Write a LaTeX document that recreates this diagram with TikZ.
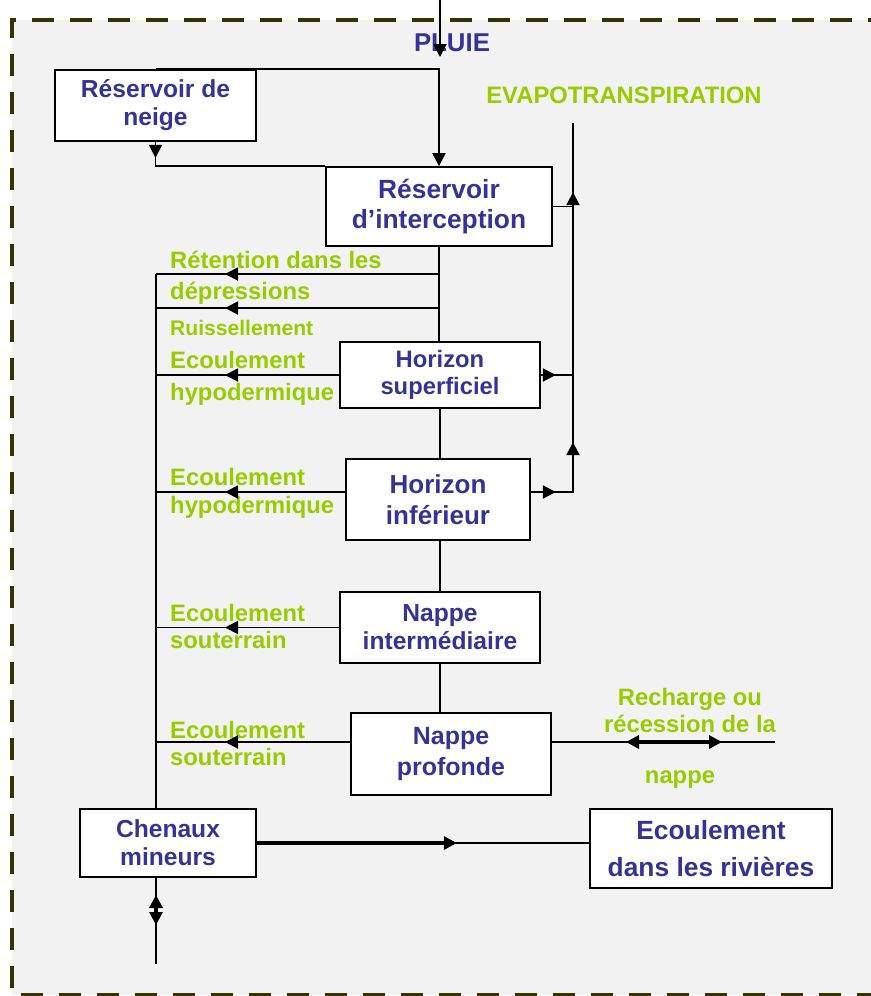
\documentclass[tikz,border=0pt]{standalone}
\usepackage{fontspec}
\setmainfont{Liberation Sans}
\usetikzlibrary{arrows.meta,positioning,calc,decorations.markings}
\definecolor{boxblue}{RGB}{51,51,153}
\definecolor{leafgreen}{RGB}{153,204,0}
\definecolor{framebrown}{RGB}{51,51,0}
\definecolor{paper}{RGB}{242,242,242}
\tikzset{
  box/.style={draw=black, fill=white, line width=1.4pt, align=center, inner sep=0pt, text=boxblue, font=\bfseries\fontsize{21}{24}\selectfont},
  flowlabel/.style={anchor=west, align=left, inner sep=0pt, text=leafgreen, font=\bfseries\fontsize{20.3}{23}\selectfont},
  titlelabel/.style={inner sep=0pt, text=boxblue, font=\bfseries\fontsize{22}{24}\selectfont},
  flowline/.style={line width=1.6pt},
  arrow/.style={flowline, -{Triangle[length=3.9mm,width=3.9mm]}},
  thickarrow/.style={line width=2.6pt, -{Triangle[length=3.9mm,width=3.9mm]}},
  twoway/.style={line width=2.6pt, {Triangle[length=3.9mm,width=3.9mm]}-{Triangle[length=3.9mm,width=3.9mm]}},
  tipat/.style={postaction={decorate, decoration={markings, mark=at position #1 with {\arrow{Triangle[length=3.9mm,width=3.9mm]}}}}},
  frame/.style={draw=framebrown, line width=2.6pt, dash pattern=on 6.6mm off 4.8mm}
}
\begin{document}
\begin{tikzpicture}[x=0.03cm, y=-0.03cm]
\useasboundingbox (0,0) rectangle (871,996);
\fill[paper] (12,20) rectangle (890,995);
\draw[frame] (890,20) -- (12,20) -- (12,995) -- (890,995);

% reservoirs and layers
\node[box, minimum width=6.03cm, minimum height=2.13cm] (snow) at (155.5,105.5) {Réservoir de\\neige};
\node[box, minimum width=6.78cm, minimum height=2.37cm, font=\bfseries\fontsize{22.5}{25}\selectfont] (inter) at (439,206.5) {Réservoir\\d’interception};
\node[box, minimum width=6cm, minimum height=1.98cm, font=\bfseries\fontsize{20.3}{23}\selectfont] (sup) at (440,375) {Horizon\\superficiel};
\node[box, minimum width=5.52cm, minimum height=2.43cm, font=\bfseries\fontsize{22.2}{26.5}\selectfont] (inf) at (438,499.5) {Horizon\\inférieur};
\node[box, minimum width=6cm, minimum height=2.13cm] (interm) at (440,627.5) {Nappe\\intermédiaire};
\node[box, minimum width=6cm, minimum height=2.46cm, font=\bfseries\fontsize{21.3}{27}\selectfont] (prof) at (451,754) {Nappe\\profonde};
\node[box, minimum width=5.28cm, minimum height=2.04cm] (chen) at (168,843) {Chenaux\\mineurs};
\node[box, minimum width=7.26cm, minimum height=2.37cm, font=\bfseries\fontsize{22.5}{31.5}\selectfont] (riv) at (711,848.5) {Ecoulement\\dans les rivières};

% labels
\node[titlelabel] (pluie) at (452,43) {PLUIE};
\node[flowlabel, anchor=center] (evap) at (624,95) {EVAPOTRANSPIRATION};
\node[flowlabel, font=\bfseries\fontsize{20.3}{26.5}\selectfont] (retention) at (170,277.5) {Rétention dans les\\dépressions};
\node[flowlabel, font=\bfseries\fontsize{18}{20}\selectfont] (ruis) at (170,328) {Ruissellement};
\node[flowlabel, font=\bfseries\fontsize{20.3}{27.3}\selectfont] (hypo1) at (170,378) {Ecoulement\\hypodermique};
\node[flowlabel, font=\bfseries\fontsize{20.3}{24}\selectfont] (hypo2) at (170,493) {Ecoulement\\hypodermique};
\node[flowlabel] (sout1) at (170,626.5) {Ecoulement\\souterrain};
\node[flowlabel] (sout2) at (170,743.5) {Ecoulement\\souterrain};
\node[flowlabel, anchor=center, align=center] (recharge) at (690,710.5) {Recharge ou\\récession de la};
\node[flowlabel, anchor=center] (nappe) at (680,780) {nappe};

% free ends
\coordinate (sky) at (440,0);
\coordinate (rain) at (440,57);
\coordinate (evtop) at (573,123);
\coordinate (spine1) at (440,274);
\coordinate (spine2) at (440,308);
\coordinate (collect) at (156,274);
\coordinate (profleft) at ($(prof.west)+(0,-12)$);
\coordinate (profright) at ($(prof.east)+(0,-12)$);
\coordinate (infleft) at ($(inf.west)+(0,-7.5)$);
\coordinate (infright) at ($(inf.east)+(0,-7.5)$);
\coordinate (outer) at (775,742);
\coordinate (rl) at (626,742);
\coordinate (rr) at (722,742);
\coordinate (rivtip) at ($(chen.east)+(200,0)$);
\coordinate (bedup) at (156,895);
\coordinate (beddown) at (156,925);
\coordinate (bedend) at (156,964);

% rain and snow
\draw[arrow] (sky) -- (rain);
\draw[arrow] (snow.north) -| (inter.north);
\draw[flowline, tipat=0.48cm] (snow.south) |- (inter.north west);

% vertical chain
\draw[flowline] (inter.south) -- (inter.south |- sup.north);
\draw[flowline] (sup.south) -- (sup.south |- inf.north);
\draw[flowline] (sup.south |- inf.south) -- (interm.north);
\draw[flowline] (interm.south) -- (interm.south |- prof.north);

% lateral flows to the channels
\draw[flowline, tipat=-2.07cm] (spine1) -- (collect);
\draw[flowline, tipat=-2.07cm] (spine2) -- (spine2 -| collect);
\draw[flowline, tipat=-2.07cm] (sup.west) -- (sup.west -| collect);
\draw[flowline, tipat=-2.07cm] (infleft) -- (infleft -| collect);
\draw[flowline, tipat=-2.07cm] (interm.west) -- (interm.west -| collect);
\draw[flowline, tipat=-2.07cm] (profleft) -- (profleft -| collect);
\draw[flowline] (collect) -- (collect |- chen.north);

% evapotranspiration
\draw[flowline] (inter.east) -- (inter.east -| evtop);
\draw[flowline, tipat=0.45cm] (sup.east) -- (sup.east -| evtop);
\draw[flowline, tipat=0.75cm, tipat=2.76cm, tipat=10.26cm] (infright) -- (infright -| evtop) -- (evtop);

% groundwater exchange
\draw[flowline] (profright) -- (outer);
\draw[twoway] (rl) -- (rr);

% channels
\draw[flowline] (chen.east) -- (chen.east -| riv.west);
\draw[thickarrow] (chen.east) -- (rivtip);
\draw[flowline] (collect |- chen.south) -- (bedend);
\draw[twoway] (bedup) -- (beddown);
\end{tikzpicture}
\end{document}
